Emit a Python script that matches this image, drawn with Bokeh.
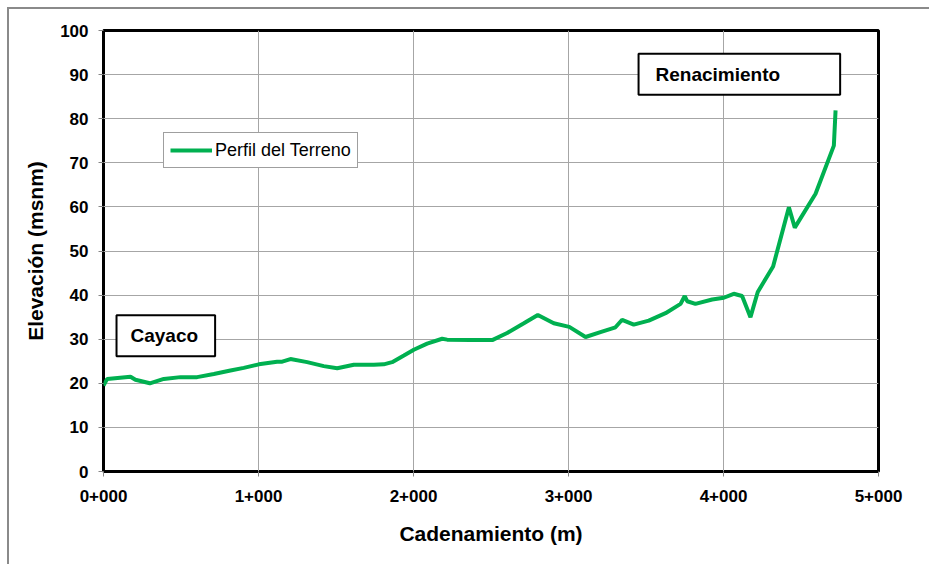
from bokeh.plotting import figure
from bokeh.models import FixedTicker, Label, Legend, LegendItem, ColumnDataSource
from bokeh.embed import file_html
from bokeh.resources import INLINE

# Data
cadenamiento = [0, 24, 174, 206, 299, 389, 497, 604, 712, 819, 905, 1002, 1120, 1153,
                1206, 1314, 1421, 1508, 1615, 1744, 1808, 1862, 1938, 2002, 2088, 2185,
                2217, 2368, 2508, 2604, 2712, 2802, 2905, 3005, 3110, 3206, 3303, 3346,
                3421, 3518, 3626, 3723, 3750, 3766, 3819, 3927, 4002, 4066, 4120, 4174,
                4221, 4320, 4422, 4460, 4594, 4712, 4723]
elevacion = [19.5, 21.0, 21.5, 20.8, 20.0, 21.0, 21.4, 21.4, 22.1, 22.9, 23.5, 24.3, 24.9, 24.9,
             25.5, 24.8, 23.9, 23.4, 24.2, 24.2, 24.3, 24.8, 26.3, 27.6, 29.0, 30.1,
             29.9, 29.8, 29.8, 31.4, 33.6, 35.5, 33.6, 32.8, 30.5, 31.6, 32.7, 34.4,
             33.3, 34.2, 35.9, 38.0, 39.8, 38.6, 38.0, 39.0, 39.4, 40.3, 39.8, 35.0,
             40.7, 46.5, 59.9, 55.3, 63.0, 73.9, 81.9]
x_ticks = [0, 1000, 2000, 3000, 4000, 5000]
x_tick_labels = ["0+000", "1+000", "2+000", "3+000", "4+000", "5+000"]
y_ticks = [0, 10, 20, 30, 40, 50, 60, 70, 80, 90, 100]
series_name = "Perfil del Terreno"
annotations = [("Cayaco", 84, 30.8, 14, 17), ("Renacimiento", 3452, 90.1, 17, 60)]

FONT = "Liberation Sans"

p = figure(width=922, height=557, x_range=(0, 5000), y_range=(0, 100),
           output_backend="svg", toolbar_location=None,
           min_border_left=94, min_border_right=53, min_border_top=21, min_border_bottom=95,
           styles={"margin-left": "7px", "margin-top": "7px",
                   "border-left": "2px solid #8a8a8a", "border-top": "2px solid #8a8a8a"})

p.outline_line_color = "black"
p.outline_line_width = 3
p.background_fill_color = "white"
p.border_fill_color = "white"

# grid
p.xgrid.grid_line_color = "#a6a6a6"
p.ygrid.grid_line_color = "#a6a6a6"
p.xgrid.grid_line_width = 1
p.ygrid.grid_line_width = 1

# axes
p.xaxis.ticker = FixedTicker(ticks=x_ticks)
p.xaxis.major_label_overrides = {t: l for t, l in zip(x_ticks, x_tick_labels)}
p.yaxis.ticker = FixedTicker(ticks=y_ticks)
for ax in (p.xaxis[0], p.yaxis[0]):
    ax.axis_line_color = None
    ax.major_tick_line_color = "#868686"
    ax.major_tick_in = 0
    ax.major_tick_out = 5
    ax.minor_tick_line_color = None
    ax.major_label_text_font = FONT
    ax.major_label_text_font_style = "bold"
    ax.major_label_text_font_size = "17px"
    ax.major_label_text_color = "black"
    ax.axis_label_text_font = FONT
    ax.axis_label_text_font_style = "bold"
    ax.axis_label_text_font_size = "21px"
    ax.axis_label_text_color = "black"

p.xaxis.axis_label = "Cadenamiento (m)"
p.yaxis.axis_label = "Elevación (msnm)"
p.xaxis.major_label_standoff = 13
p.xaxis.axis_label_standoff = 17
p.yaxis.major_label_standoff = 10
p.yaxis.axis_label_standoff = 10

src = ColumnDataSource(dict(x=cadenamiento, y=elevacion))
r = p.line("x", "y", source=src, line_color="#00b050", line_width=4)

legend = Legend(items=[LegendItem(label=series_name, renderers=[r])],
                location=(60, 303), orientation="vertical")
legend.label_text_font = FONT
legend.label_text_font_size = "18px"
legend.label_text_color = "black"
legend.glyph_width = 42
legend.glyph_height = 22
legend.label_standoff = 3
legend.padding = 6
legend.margin = 0
legend.border_line_color = "#404040"
legend.border_line_width = 1
legend.background_fill_alpha = 1
p.add_layout(legend)

for txt, xv, yv, padl, padr in annotations:
    p.add_layout(Label(x=xv, y=yv, text=txt, text_align="left", text_baseline="middle",
                       text_font=FONT, text_font_style="bold", text_font_size="19px",
                       text_color="black", border_line_color="black", border_line_width=2,
                       background_fill_color="white",
                       padding=dict(left=padl, right=padr, top=10, bottom=10)))

open("out.html", "w").write(file_html(p, INLINE))
